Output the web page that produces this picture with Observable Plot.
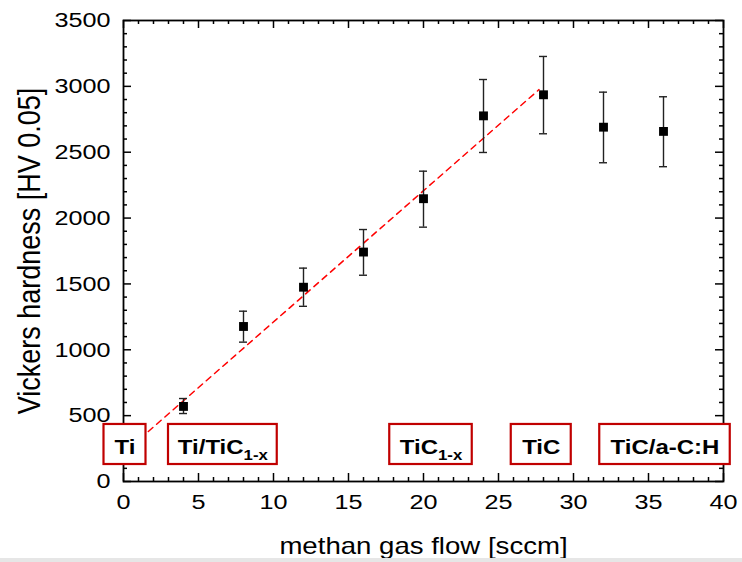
<!DOCTYPE html>
<html>
<head>
<meta charset="utf-8">
<script src="https://cdn.jsdelivr.net/npm/d3@7"></script>
<script src="https://cdn.jsdelivr.net/npm/@observablehq/plot@0.6"></script>
<style>
  html, body { margin: 0; padding: 0; background: #fff; }
</style>
</head>
<body>
<div id="chart"></div>
<script>
// ---- data ----
const flow      = [4, 8, 12, 16, 20, 24, 28, 32, 36];
const hardness  = [570, 1177, 1475, 1742, 2147, 2776, 2936, 2690, 2658];
const errLow    = [516, 1058, 1330, 1566, 1931, 2498, 2640, 2420, 2390];
const errHigh   = [630, 1293, 1620, 1913, 2356, 3052, 3227, 2956, 2921];

const fitX = [0, 27.7];
const fitY = [215, 2975];

const phaseLabels = ["Ti", "Ti/TiC_{1-x}", "TiC_{1-x}", "TiC", "TiC/a-C:H"];
const phaseStart  = [-1.3, 3.0, 17.75, 25.85, 31.75];
const phaseEnd    = [1.5, 10.25, 23.25, 29.85, 40.45];
const phaseLow    = 129;
const phaseHigh   = 433;

const xTicks = [0, 5, 10, 15, 20, 25, 30, 35, 40];
const yTicks = [0, 500, 1000, 1500, 2000, 2500, 3000, 3500];
const xMinor = d3.range(0, 41, 1).filter(v => v % 5 !== 0);
const yMinor = d3.range(0, 3501, 100).filter(v => v % 500 !== 0);

const xTitle = "methan gas flow [sccm]";
const yTitle = "Vickers hardness [HV 0.05]";

// ---- tables built from the arrays ----
const points = flow.map((x, i) => ({x, y: hardness[i], lo: errLow[i], hi: errHigh[i]}));
const fit = fitX.map((x, i) => ({x, y: fitY[i]}));
const phases = phaseLabels.map((label, i) => ({label, x1: phaseStart[i], x2: phaseEnd[i]}));

const W = 742, H = 562;
const mL = 123, mR = 19, mT = 20, mB = 81;
const plotW = W - mL - mR, plotH = H - mT - mB;
const capHalf = 4 * 40 / plotW;   // 4px expressed in x-units
const major = 8, minor = 4;
const red = "#c00000";

const chart = Plot.plot({
  width: W, height: H,
  marginLeft: mL, marginRight: mR, marginTop: mT, marginBottom: mB,
  x: {domain: [0, 40]},
  y: {domain: [0, 3500]},
  style: {fontFamily: "'Liberation Sans', Arial, sans-serif", fontSize: "21px", color: "#000", background: "#fff"},
  marks: [
    Plot.axisX({ticks: xTicks, tickSize: 0, tickPadding: 13, label: null, fontSize: 21, tickFormat: d3.format("d")}),
    Plot.axisY({ticks: yTicks, tickSize: 0, tickPadding: 13, label: null, fontSize: 21, tickFormat: d3.format("d")}),
    // inward ticks on all four sides
    Plot.tickX(xTicks, {x: d => d, insetTop: plotH - major, stroke: "#000", strokeWidth: 1.5}),
    Plot.tickX(xMinor, {x: d => d, insetTop: plotH - minor, stroke: "#000", strokeWidth: 1.5}),
    Plot.tickX(xTicks, {x: d => d, insetBottom: plotH - major, stroke: "#000", strokeWidth: 1.5}),
    Plot.tickX(xMinor, {x: d => d, insetBottom: plotH - minor, stroke: "#000", strokeWidth: 1.5}),
    Plot.tickY(yTicks, {y: d => d, insetRight: plotW - major, stroke: "#000", strokeWidth: 1.5}),
    Plot.tickY(yMinor, {y: d => d, insetRight: plotW - minor, stroke: "#000", strokeWidth: 1.5}),
    Plot.tickY(yTicks, {y: d => d, insetLeft: plotW - major, stroke: "#000", strokeWidth: 1.5}),
    Plot.tickY(yMinor, {y: d => d, insetLeft: plotW - minor, stroke: "#000", strokeWidth: 1.5}),
    Plot.frame({stroke: "#000", strokeWidth: 1.8}),
    // fit line
    Plot.line(fit, {x: "x", y: "y", stroke: "#ff0000", strokeWidth: 1.5, strokeDasharray: "6,5"}),
    // error bars
    Plot.ruleX(points, {x: "x", y1: "lo", y2: "hi", stroke: "#222", strokeWidth: 1.4}),
    Plot.ruleY(points, {y: "lo", x1: d => d.x - capHalf, x2: d => d.x + capHalf, stroke: "#222", strokeWidth: 1.4}),
    Plot.ruleY(points, {y: "hi", x1: d => d.x - capHalf, x2: d => d.x + capHalf, stroke: "#222", strokeWidth: 1.4}),
    Plot.dot(points, {x: "x", y: "y", symbol: "square", r: 5, fill: "#000", stroke: "none"}),
    // phase boxes
    Plot.rect(phases, {x1: "x1", x2: "x2", y1: phaseLow, y2: phaseHigh, fill: "#fff", stroke: red, strokeWidth: 2.2}),
    Plot.text(phases, {x: d => (d.x1 + d.x2) / 2, y: (phaseLow + phaseHigh) / 2, text: "label",
      fontSize: 20, fontWeight: "bold", fill: "#000", dy: 3.5, textAnchor: "middle"}),
    // axis titles
    Plot.text([xTitle], {text: d => d, frameAnchor: "bottom", lineAnchor: "top", dy: 56, fontSize: 23, fill: "#000", textAnchor: "middle"}),
    Plot.text([yTitle], {text: d => d, frameAnchor: "left", rotate: -90, lineAnchor: "middle", textAnchor: "middle", dx: 30 - mL, fontSize: 27, fill: "#000"})
  ]
});

// subscripts: "A_{b}" -> A with subscript b
d3.select(chart).selectAll("text").each(function() {
  const t = this;
  if (t.querySelector("tspan")) return;
  const s = t.textContent;
  const m = s.match(/^(.*)_\{(.*)\}$/);
  if (!m) return;
  t.textContent = "";
  const sel = d3.select(t);
  sel.append("tspan").text(m[1]);
  sel.append("tspan").attr("font-size", 14).attr("dy", 6).text(m[2]);
});

// the reference figure is horizontally stretched: stretch glyphs to match
d3.select(chart).selectAll("text").each(function() {
  const tr = this.getAttribute("transform");
  if (tr) {
    if (tr.includes("rotate")) this.setAttribute("transform", tr + " scale(1,1.15)");
    else this.setAttribute("transform", tr + " scale(1.2,1)");
  } else {
    const x = +this.getAttribute("x") || 0, y = +this.getAttribute("y") || 0;
    this.setAttribute("transform", `translate(${x},${y}) scale(1.2,1) translate(${-x},${-y})`);
  }
});

// faint bottom border like the reference image edge
d3.select(chart).append("rect").attr("x", 0).attr("y", H - 4).attr("width", W).attr("height", 4).attr("fill", "#e6e6e6");

document.getElementById("chart").appendChild(chart);
</script>
</body>
</html>
